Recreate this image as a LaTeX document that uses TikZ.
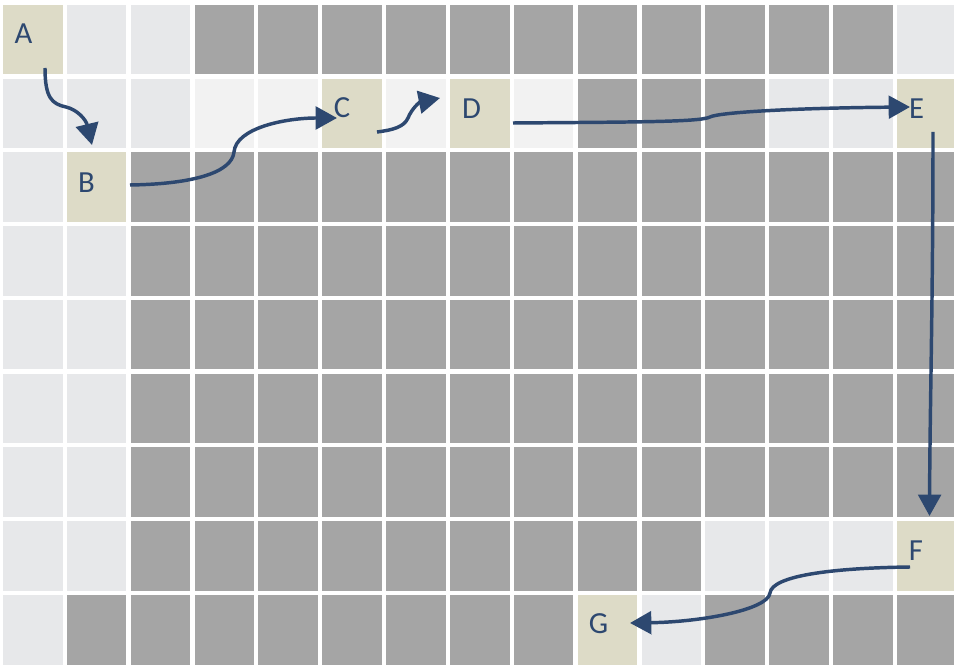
\documentclass[tikz,border=0pt]{standalone}
\usepackage{fontspec}
\setmainfont{Carlito}
\usetikzlibrary{arrows.meta}
\definecolor{cdark}{HTML}{A5A5A5}
\definecolor{clight}{HTML}{E7E8EA}
\definecolor{cpale}{HTML}{F2F2F2}
\definecolor{ctan}{HTML}{DDDBC7}
\definecolor{cblue}{HTML}{2D4870}
\newcommand{\gcell}[3]{\fill[#3] ({3+63.86*#1},{5+73.75*#2}) rectangle ++(59.5,69.5);}
\begin{document}
\begin{tikzpicture}[x=0.75pt,y=-0.75pt,
  lbl/.style={text=cblue,font=\fontsize{23}{23}\selectfont,inner sep=0pt,anchor=center},
  conn/.style={draw=cblue,line width=2.6pt,-{Triangle[length=16pt,width=17pt]}}]
\useasboundingbox (0,0) rectangle (954,666);
\fill[white] (0,0) rectangle (954,666);
% grid: dark everywhere first
\foreach \c in {0,...,14}{\foreach \r in {0,...,8}{\gcell{\c}{\r}{cdark}}}
% light cells
\foreach \c/\r in {1/0,2/0,14/0,0/1,1/1,2/1,12/1,13/1,0/2,0/3,1/3,0/4,1/4,0/5,1/5,0/6,1/6,0/7,1/7,11/7,12/7,13/7,0/8,10/8}{\gcell{\c}{\r}{clight}}
% paler cells
\foreach \c/\r in {3/1,4/1,6/1,8/1}{\gcell{\c}{\r}{cpale}}
% tan cells
\foreach \c/\r in {0/0,5/1,7/1,14/1,1/2,14/7,9/8}{\gcell{\c}{\r}{ctan}}
% labels
\node[lbl] (A) at (23.5,34) {A};
\node[lbl] (B) at (86.5,183) {B};
\node[lbl] (C) at (342,107.5) {C};
\node[lbl] (D) at (471.5,109) {D};
\node[lbl] (E) at (916.5,109) {E};
\node[lbl] (F) at (916,551) {F};
\node[lbl] (G) at (598.5,624) {G};
% connectors
\draw[conn] ([shift={(21.5,34)}]A.center) .. controls (45,98) and (52,104) .. (66,107)
  .. controls (78,110) and (86,120) .. ([shift={(5.5,-38)}]B.center);
\draw[conn] ([shift={(43.5,2)}]B.center) .. controls (195,184) and (232,172) .. (234,152)
  .. controls (236,128) and (285,118) .. ([shift={(-5,10.5)}]C.center);
\draw[conn] ([shift={(35,24.5)}]C.center) .. controls (393,130) and (404,127) .. (408,118)
  .. controls (412,108) and (420,102) .. ([shift={(-31.5,-11)}]D.center);
\draw[conn] ([shift={(41.5,14)}]D.center) .. controls (640,122) and (700,122) .. (710,117)
  .. controls (720,112) and (800,108) .. ([shift={(-6.5,-2)}]E.center);
\draw[conn] ([shift={(16.5,23)}]E.center) .. controls (933,300) and (930,400) .. ([shift={(13.5,-35)}]F.center);
\draw[conn] ([shift={(-6,16)}]F.center) .. controls (830,568) and (772,576) .. (770,593)
  .. controls (768,610) and (700,622) .. ([shift={(31.5,-1)}]G.center);
\end{tikzpicture}
\end{document}
